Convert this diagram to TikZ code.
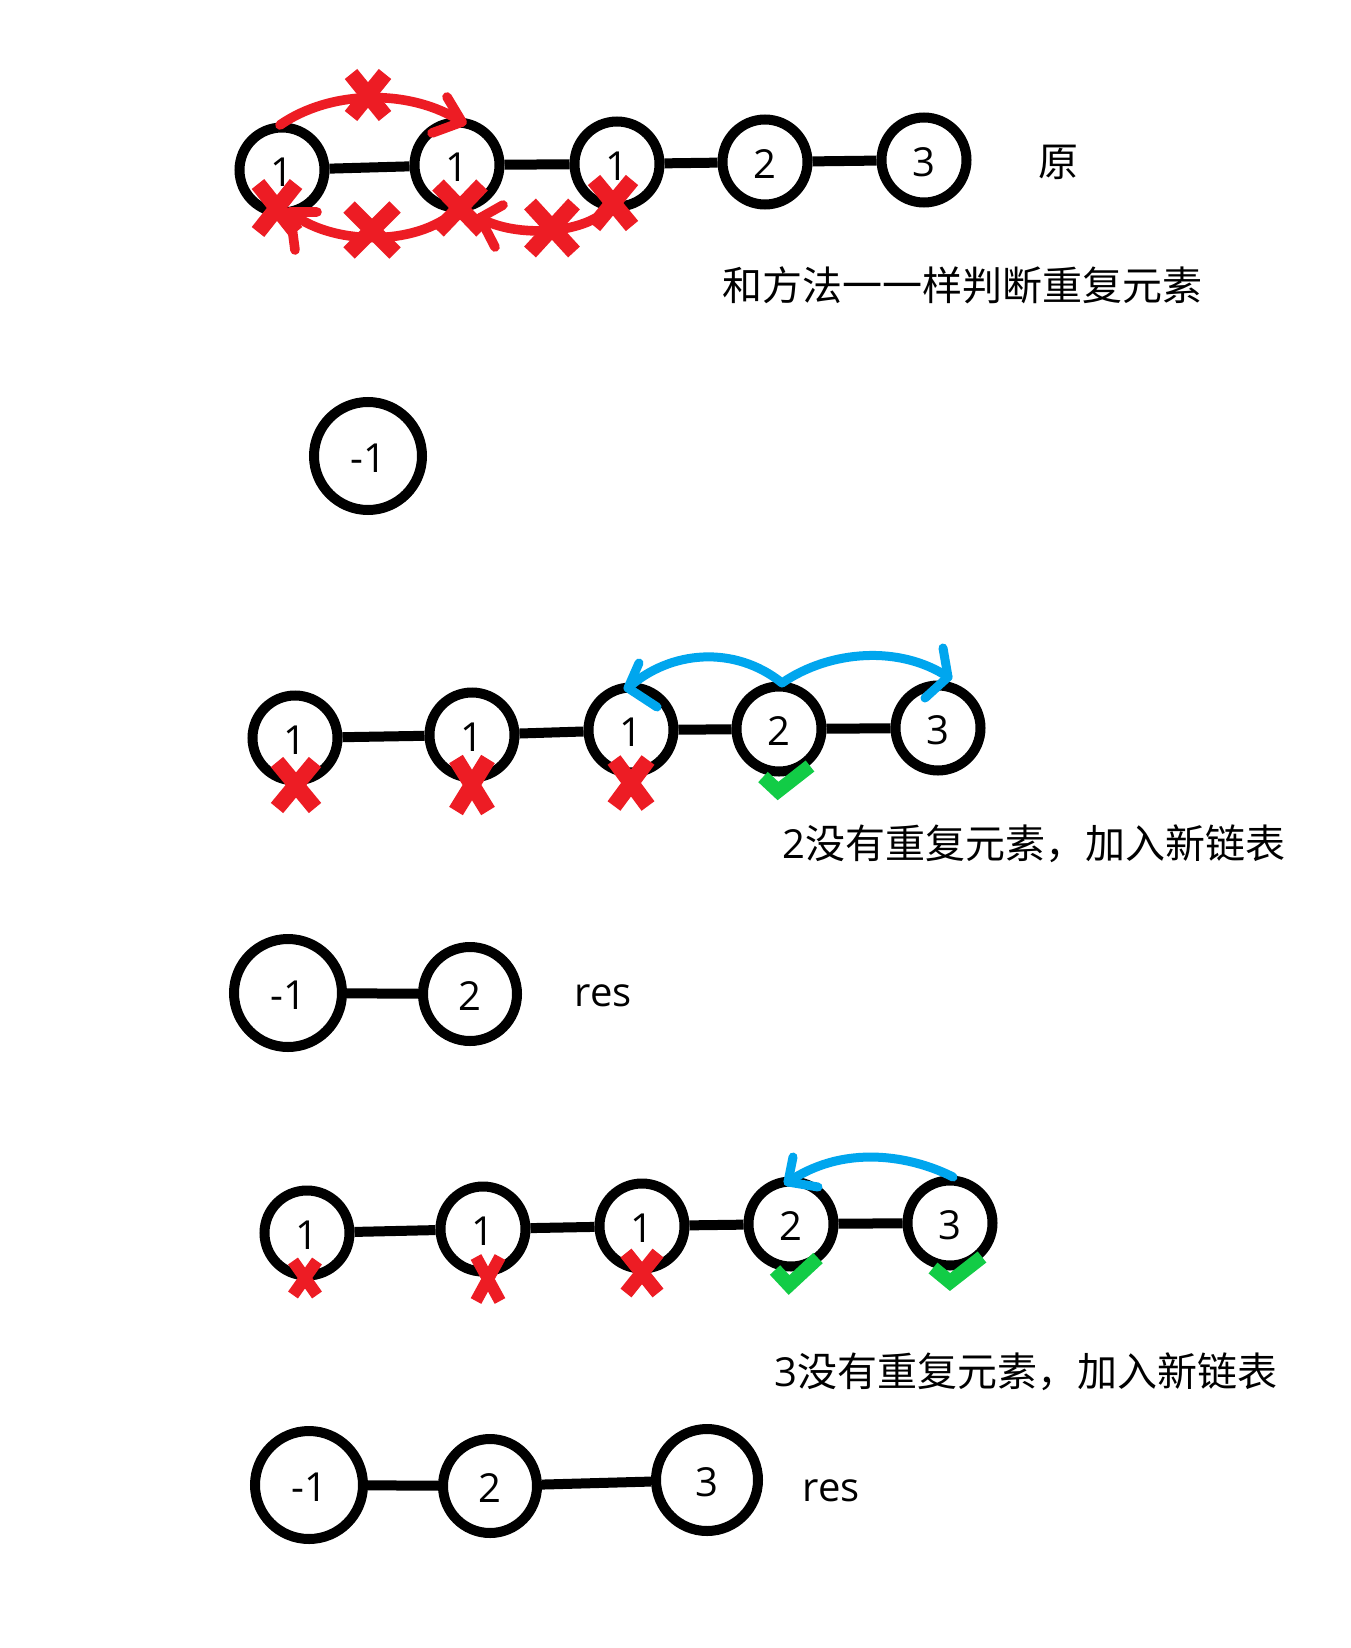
\documentclass[tikz,border=0pt]{standalone}
\usepackage{fontspec}
\setmainfont{Open Sans}
\newfontfamily\cjk{Noto Sans CJK SC}
\definecolor{xred}{RGB}{237,28,36}
\definecolor{xblue}{RGB}{0,166,238}
\definecolor{xgreen}{RGB}{18,204,70}
\tikzset{
 nd/.style={circle,draw,line width=5pt,inner sep=0pt,minimum size=42.5pt,font=\fontsize{20}{24}\selectfont,text height=16.6pt,text depth=0pt},
 bignd/.style={nd,minimum size=54pt},
 midnd/.style={nd,minimum size=47pt},
 link/.style={line width=5pt},
 redarc/.style={draw=xred,line width=4.8pt,line cap=round,line join=round},
 bluearc/.style={draw=xblue,line width=4.5pt,line cap=round,line join=round},
 chk/.style={draw=xgreen,line width=7pt,line join=miter},
 xmark/.style={draw=xred},
 txt/.style={inner sep=0pt,font=\fontsize{20}{24}\selectfont},
}
\newcommand\redx[5]{\draw[xmark,line width=#5] (#1-#3,#2-#4) -- (#1+#3,#2+#4) (#1-#3,#2+#4) -- (#1+#3,#2-#4);}
\begin{document}
\begin{tikzpicture}[x=0.5pt,y=-0.5pt]
\fill[white] (0,0) rectangle (1350,1648);
\path[use as bounding box] (0,0) rectangle (1350,1648);

% row 1
\node[nd] (A1) at (282,170) {1};
\node[nd] (A2) at (457,165) {1};
\node[nd] (A3) at (617,164) {1};
\node[nd] (A4) at (765,162) {2};
\node[nd] (A5) at (924,160) {3};
\draw[link] (A1) -- (A2); \draw[link] (A2) -- (A3); \draw[link] (A3) -- (A4); \draw[link] (A4) -- (A5);
\node[txt] (yuan) at (1058,162) {\cjk 原};
\node[txt,anchor=west] (t1) at (722,285) {\cjk 和方法一一样判断重复元素};

\draw[redarc] (280,125) .. controls (330,90) and (410,88) .. (462,122);
\draw[redarc] (447,97) -- (462,122) -- (432,133);
\draw[redarc] (457,210) .. controls (415,248) and (330,245) .. (290,212);
\draw[redarc] (317,212) -- (290,212) -- (295,250);
\draw[redarc] (610,207) .. controls (585,235) and (515,238) .. (480,218);
\draw[redarc] (503,205) -- (480,218) -- (495,247);
\redx{368}{95}{17}{21}{8pt}
\redx{277}{208}{19}{24}{8pt}
\redx{372}{230}{23}{23}{8pt}
\redx{460}{208}{22}{23}{8pt}
\redx{552}{228}{22}{24}{8pt}
\redx{613}{203}{19}{23}{8pt}

% single node
\node[bignd] (M) at (368,456) {-1};

% row 2
\node[nd] (B1) at (295,738) {1};
\node[nd] (B2) at (472,735) {1};
\node[nd] (B3) at (631,730) {1};
\node[nd] (B4) at (779,729) {2};
\node[nd] (B5) at (938,728) {3};
\draw[link] (B1) -- (B2); \draw[link] (B2) -- (B3); \draw[link] (B3) -- (B4); \draw[link] (B4) -- (B5);
\redx{296}{785}{19}{23}{8pt}
\redx{472}{785}{16}{26}{8pt}
\redx{631}{783}{17}{23}{8pt}
\draw[chk] (763,777) -- (778,791) -- (810,766);
\draw[bluearc] (628,688) .. controls (670,650) and (735,645) .. (782,683) .. controls (830,650) and (900,645) .. (948,677);
\draw[bluearc] (639,663) -- (628,688) -- (657,707);
\draw[bluearc] (943,648) -- (948,677) -- (925,698);
\node[txt,anchor=west] (t2) at (782,844) {2\cjk 没有重复元素，加入新链表};

% row 3
\node[bignd] (C1) at (288,993) {-1};
\node[midnd] (C2) at (470,994) {2};
\draw[link] (C1) -- (C2);
\node[txt] (r1) at (603,996) {res};

% row 4
\node[nd] (D1) at (307,1233) {1};
\node[nd] (D2) at (483,1229) {1};
\node[nd] (D3) at (642,1226) {1};
\node[nd] (D4) at (791,1224) {2};
\node[nd] (D5) at (950,1223) {3};
\draw[link] (D1) -- (D2); \draw[link] (D2) -- (D3); \draw[link] (D3) -- (D4); \draw[link] (D4) -- (D5);
\redx{305}{1278}{12}{17}{6pt}
\redx{488}{1279}{12}{22}{6pt}
\redx{642}{1273}{16}{20}{7pt}
\draw[chk] (775,1270) -- (789,1285) -- (818,1258);
\draw[chk] (933,1268) -- (950,1282) -- (982,1257);
\draw[bluearc] (953,1177) .. controls (920,1160) and (850,1140) .. (788,1182);
\draw[bluearc] (793,1157) -- (788,1182) -- (818,1187);
\node[txt,anchor=west] (t3) at (774,1372) {3\cjk 没有重复元素，加入新链表};

% row 5
\node[bignd] (E1) at (309,1485) {-1};
\node[midnd] (E2) at (490,1486) {2};
\node[nd,minimum size=51pt] (E3) at (707,1480) {3};
\draw[link] (E1) -- (E2); \draw[link] (E2) -- (E3);
\node[txt] (r2) at (831,1491) {res};
\end{tikzpicture}
\end{document}
